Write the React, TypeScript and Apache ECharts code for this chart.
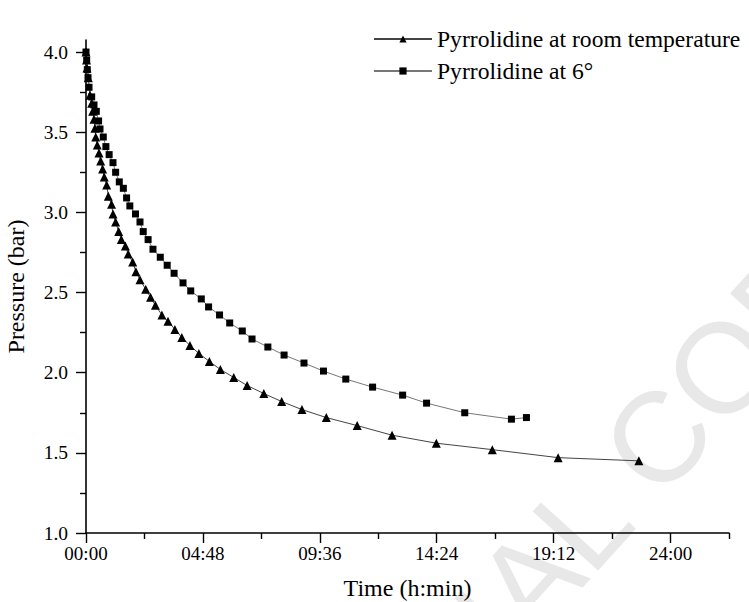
import React, { useEffect, useRef } from "react";
import * as echarts from "echarts";

// time in minutes, pressure in bar
const roomTempTime = [0, 1.2, 2.5, 5.7, 9.8, 14, 16.5, 19.7, 22, 24, 27.8, 32, 36.2, 41, 45, 51, 55, 63, 66.5, 73, 80.5, 87, 97, 104, 115, 123, 133, 147, 159, 171, 187, 202, 219, 236, 256, 278, 304, 331, 364, 397, 438, 482, 532, 592, 668, 754, 863, 1001, 1163, 1362];
const roomTempPressure = [4.0, 3.95, 3.9, 3.84, 3.73, 3.68, 3.63, 3.58, 3.525, 3.47, 3.42, 3.37, 3.32, 3.27, 3.22, 3.17, 3.1, 3.05, 2.99, 2.94, 2.88, 2.83, 2.79, 2.74, 2.69, 2.63, 2.58, 2.52, 2.47, 2.42, 2.36, 2.32, 2.27, 2.22, 2.17, 2.12, 2.07, 2.02, 1.97, 1.92, 1.87, 1.82, 1.77, 1.72, 1.67, 1.61, 1.56, 1.52, 1.47, 1.45];

const coldTime = [0, 1.7, 3.2, 5, 7.4, 14, 19.7, 25.4, 31, 34.5, 42.6, 49, 57, 66.5, 73, 82, 92, 100, 108, 122, 133, 141, 153, 165, 183, 200, 217, 239, 258, 284, 302, 329, 354, 385, 409, 448, 488, 537, 585, 640, 706, 780, 839, 933, 1048, 1085];
const coldPressure = [4.0, 3.95, 3.89, 3.84, 3.78, 3.72, 3.67, 3.63, 3.57, 3.52, 3.47, 3.41, 3.36, 3.31, 3.25, 3.19, 3.15, 3.09, 3.04, 2.99, 2.94, 2.88, 2.83, 2.77, 2.72, 2.67, 2.62, 2.56, 2.51, 2.46, 2.41, 2.36, 2.31, 2.26, 2.21, 2.16, 2.11, 2.06, 2.01, 1.96, 1.91, 1.86, 1.81, 1.75, 1.71, 1.72];

const xMajorTicks = [0, 288, 576, 864, 1152, 1440];
const xMinorTicks = [144, 432, 720, 1008, 1296, 1584];
const yMajorTicks = [1.0, 1.5, 2.0, 2.5, 3.0, 3.5, 4.0];
const yMinorTicks = [1.25, 1.75, 2.25, 2.75, 3.25, 3.75];

const seriesNames = ["Pyrrolidine at room temperature", "Pyrrolidine at 6°"];

const FONT = "Liberation Serif";

function fmtTime(v: number): string {
  const h = Math.floor(v / 60);
  const m = Math.round(v - h * 60);
  return String(h).padStart(2, "0") + ":" + String(m).padStart(2, "0");
}

export default function App() {
  const ref = useRef<HTMLDivElement>(null);
  useEffect(() => {
    if (!ref.current) return;
    const chart = echarts.init(ref.current, null, { renderer: "svg" });
    const axisCommonX = {
      type: "value",
      min: 0,
      max: 1584,
      position: "bottom",
      splitLine: { show: false },
    };
    const axisCommonY = {
      type: "value",
      min: 1.0,
      max: 4.075,
      position: "left",
      splitLine: { show: false },
    };
    chart.setOption({
      animation: false,
      backgroundColor: "#ffffff",
      grid: { left: 86, right: 20, top: 40, bottom: 69, containLabel: false, outerBoundsMode: "none" },
      legend: {
        orient: "vertical",
        left: 368,
        top: 22,
        itemWidth: 58,
        itemHeight: 9,
        itemGap: 8,
        textStyle: { fontFamily: FONT, fontSize: 23.6, color: "#000" },
        data: seriesNames,
      },
      graphic: [
        {
          type: "text",
          x: 504,
          y: 608,
          rotation: 0.835,
          z: -10,
          silent: true,
          style: {
            text: "PERSONAL COPY",
            fontFamily: "Liberation Sans",
            fontSize: 128,
            fill: "#e8e8e8",
            align: "center",
            verticalAlign: "middle",
          },
        },
      ],
      xAxis: [
        {
          ...axisCommonX,
          name: "Time (h:min)",
          nameLocation: "middle",
          nameGap: 43,
          nameTextStyle: { fontFamily: FONT, fontSize: 24, color: "#000" },
          axisLine: { show: true, lineStyle: { color: "#000", width: 1.6 } },
          axisTick: { show: true, inside: false, length: 10, customValues: xMajorTicks, lineStyle: { color: "#000", width: 1.4 } },
          axisLabel: {
            show: true,
            customValues: xMajorTicks,
            margin: 11,
            fontFamily: FONT,
            fontSize: 19,
            color: "#000",
            formatter: (v: number) => fmtTime(v),
          },
        },
        {
          ...axisCommonX,
          axisLine: { show: false },
          axisTick: { show: true, inside: false, length: 6, customValues: xMinorTicks, lineStyle: { color: "#000", width: 1.4 } },
          axisLabel: { show: false },
        },
      ],
      yAxis: [
        {
          ...axisCommonY,
          name: "Pressure (bar)",
          nameLocation: "middle",
          nameGap: 58,
          nameTextStyle: { fontFamily: FONT, fontSize: 24, color: "#000" },
          axisLine: { show: true, lineStyle: { color: "#000", width: 1.6 } },
          axisTick: { show: true, inside: false, length: 10, customValues: yMajorTicks, lineStyle: { color: "#000", width: 1.4 } },
          axisLabel: {
            show: true,
            customValues: yMajorTicks,
            margin: 18,
            fontFamily: FONT,
            fontSize: 19.5,
            color: "#000",
            formatter: (v: number) => v.toFixed(1),
          },
        },
        {
          ...axisCommonY,
          axisLine: { show: false },
          axisTick: { show: true, inside: false, length: 6, customValues: yMinorTicks, lineStyle: { color: "#000", width: 1.4 } },
          axisLabel: { show: false },
        },
      ],
      series: [
        {
          name: seriesNames[0],
          type: "line",
          xAxisIndex: 0,
          yAxisIndex: 0,
          symbol: "triangle",
          symbolSize: 9,
          showAllSymbol: true,
          itemStyle: { color: "#000" },
          lineStyle: { color: "#444", width: 1 },
          data: roomTempTime.map((t, i) => [t, roomTempPressure[i]]),
          z: 3,
        },
        {
          name: seriesNames[1],
          type: "line",
          xAxisIndex: 0,
          yAxisIndex: 0,
          symbol: "rect",
          symbolSize: 7,
          showAllSymbol: true,
          itemStyle: { color: "#000" },
          lineStyle: { color: "#777", width: 1 },
          data: coldTime.map((t, i) => [t, coldPressure[i]]),
          z: 3,
        },
      ],
    });
    return () => chart.dispose();
  }, []);
  return <div ref={ref} style={{ width: 749, height: 602, position: "absolute", left: 0, top: 0 }} />;
}
